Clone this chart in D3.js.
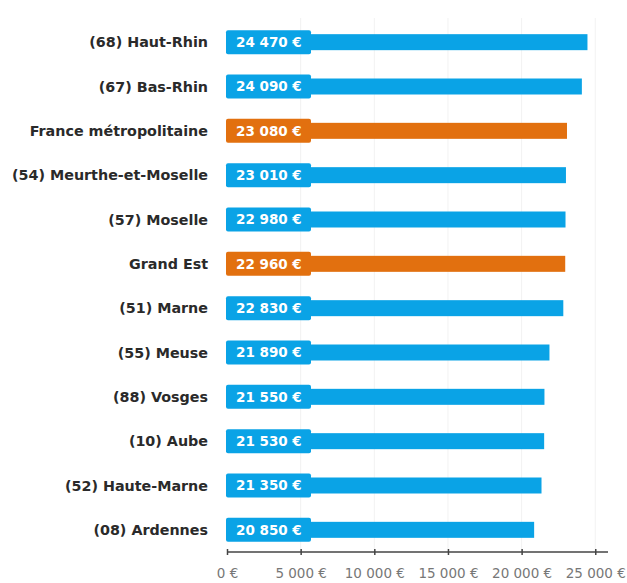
<!DOCTYPE html>
<html><head><meta charset="utf-8">
<script src="https://cdn.jsdelivr.net/npm/d3@7"></script>
<style>
html,body{margin:0;padding:0;background:#fff;}
svg{display:block;font-family:"DejaVu Sans",sans-serif;}
</style></head>
<body><svg id="chart" width="627" height="583"></svg>
<script>
const categories = ["(68) Haut-Rhin","(67) Bas-Rhin","France métropolitaine","(54) Meurthe-et-Moselle","(57) Moselle","Grand Est","(51) Marne","(55) Meuse","(88) Vosges","(10) Aube","(52) Haute-Marne","(08) Ardennes"];
const values = [24470,24090,23080,23010,22980,22960,22830,21890,21550,21530,21350,20850];
const highlighted = ["France métropolitaine","Grand Est"];
const ticks = [0,5000,10000,15000,20000,25000];

const locale = d3.formatLocale({decimal:",",thousands:"\u202f",grouping:[3],currency:[""," €"]});
const fmt = v => locale.format(",")(v).replace(/\u202f/g," ") + " €";

const data = categories.map((c,i)=>({cat:c,val:values[i],hi:highlighted.includes(c)}));
const svg = d3.select("#chart");
const x = d3.scaleLinear().domain([0,26000]).range([227,610]);
const y = d3.scaleBand().domain(categories).range([20,552]);
const blue="#0aa3e6", orange="#e2700f";

// faint grid
svg.append("g").selectAll("line").data(ticks.slice(1)).join("line")
  .attr("x1",d=>x(d)).attr("x2",d=>x(d)).attr("y1",18).attr("y2",552)
  .attr("stroke","#f2f2f2").attr("stroke-width",1);

const row = svg.append("g").selectAll("g").data(data).join("g")
  .attr("transform",d=>`translate(0,${y(d.cat)+y.bandwidth()/2})`);

row.append("rect").attr("x",x(0)).attr("y",-8).attr("height",16)
  .attr("width",d=>x(d.val)-x(0)).attr("fill",d=>d.hi?orange:blue);
row.append("rect").attr("x",x(0)-1).attr("y",-12).attr("height",24).attr("width",85)
  .attr("rx",2).attr("fill",d=>d.hi?orange:blue);
row.append("text").attr("x",x(0)+9).attr("dy","0.36em").attr("fill","#fff")
  .attr("font-weight",700).attr("font-size",13.5).text(d=>fmt(d.val));
row.append("text").attr("x",208).attr("dy","0.36em").attr("text-anchor","end")
  .attr("fill","#2a2a2a").attr("font-weight",700).attr("font-size",14.3).text(d=>d.cat);

// axis
const ax = svg.append("g").attr("transform","translate(0,552)")
  .call(d3.axisBottom(x).tickValues(ticks).tickSize(4).tickFormat(fmt));
ax.select(".domain").attr("d",`M${x(0)},0H608`).attr("stroke","#444").attr("stroke-width",1.5);
ax.selectAll(".tick line").attr("y1",-3).attr("y2",3).attr("stroke","#444").attr("stroke-width",1.5);
ax.selectAll(".tick text").attr("y",16).attr("fill","#777").attr("font-size",13.5)
  .attr("font-family","\"DejaVu Sans\",sans-serif");
</script></body></html>
